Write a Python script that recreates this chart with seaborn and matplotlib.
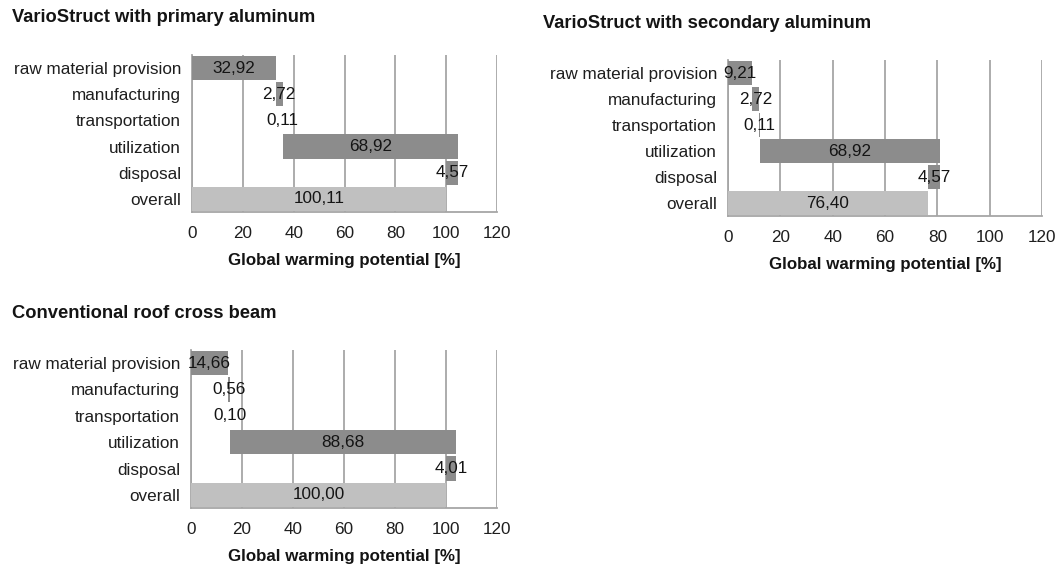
import numpy as np
import matplotlib
matplotlib.use("Agg")
import matplotlib.pyplot as plt
import seaborn as sns

# Datos de los tres diagramas de cascada
categories = ["raw material provision", "manufacturing", "transportation",
              "utilization", "disposal", "overall"]
primary = [32.92, 2.72, 0.11, 68.92, -4.57, 100.11]
secondary = [9.21, 2.72, 0.11, 68.92, -4.57, 76.40]
conventional = [14.66, 0.56, 0.10, 88.68, -4.01, 100.00]
titles = ["VarioStruct with primary aluminum",
          "VarioStruct with secondary aluminum",
          "Conventional roof cross beam"]
xticks = [0, 20, 40, 60, 80, 100, 120]
xlabel = "Global warming potential [%]"

sns.set_style("white")
plt.rcParams["font.family"] = ["Liberation Sans", "DejaVu Sans"]

dark = "#8c8c8c"
light = "#c0c0c0"
grid_c = "#a6a6a6"
fs = 12.3

fig = plt.figure(figsize=(10.59, 5.64), dpi=100)
W, H = 1059, 564

# posiciones en pixeles: (left, top, right, bottom)
boxes = [(192, 55, 497, 212), (728, 60, 1042, 216), (191, 350, 497, 508)]
title_pos = [(12, 17), (543, 23), (12, 314)]


def waterfall(ax, values):
    vals = np.array(values, dtype=float)
    steps = vals[:-1]
    starts = np.concatenate([[0], np.cumsum(steps)[:-1]])
    starts = np.append(starts, 0.0)
    sns.barplot(x=vals, y=categories, orient="h", errorbar=None,
                width=0.93, left=starts, color=dark, ax=ax, zorder=3)
    for i, p in enumerate(ax.patches):
        p.set_facecolor(light if i == len(vals) - 1 else dark)
        p.set_edgecolor("none")
        centre = starts[i] + vals[i] / 2
        txt = f"{abs(vals[i]):.2f}".replace(".", ",")
        ax.text(centre, i, txt, ha="center", va="center", fontsize=fs,
                color="#141414", zorder=4)
    ax.set_xlim(0, 120)
    ax.set_ylim(len(vals) - 0.5, -0.5)
    ax.set_xticks(xticks)
    ax.set_xticklabels([str(t) for t in xticks], fontsize=fs, color="#1e1e1e")
    ax.set_yticks(range(len(vals)))
    ax.set_yticklabels(categories, fontsize=fs, color="#1e1e1e")
    ax.set_yticks(np.arange(-0.5, len(vals)), minor=True)
    ax.tick_params(axis="y", which="major", length=0, pad=8)
    ax.tick_params(axis="y", which="minor", length=4, color=grid_c, width=1.2)
    ax.tick_params(axis="x", length=4, color=grid_c, width=1.2, pad=6)
    ax.xaxis.grid(True, color=grid_c, linewidth=1.3, zorder=0)
    ax.set_axisbelow(True)
    for s in ["top", "right"]:
        ax.spines[s].set_visible(False)
    for s in ["left", "bottom"]:
        ax.spines[s].set_color(grid_c)
        ax.spines[s].set_linewidth(1.3)
    ax.set_ylabel("")
    ax.set_xlabel(xlabel, fontsize=12.2, fontweight="bold", color="#141414", labelpad=9)


for box, vals, title, tp in zip(boxes, [primary, secondary, conventional], titles, title_pos):
    l, t, r, b = box
    ax = fig.add_axes([l / W, 1 - b / H, (r - l) / W, (b - t) / H])
    waterfall(ax, vals)
    fig.text(tp[0] / W, 1 - tp[1] / H, title, fontsize=13.2, fontweight="bold",
             color="#141414", ha="left", va="center")

fig.savefig("out.png", dpi=100)
